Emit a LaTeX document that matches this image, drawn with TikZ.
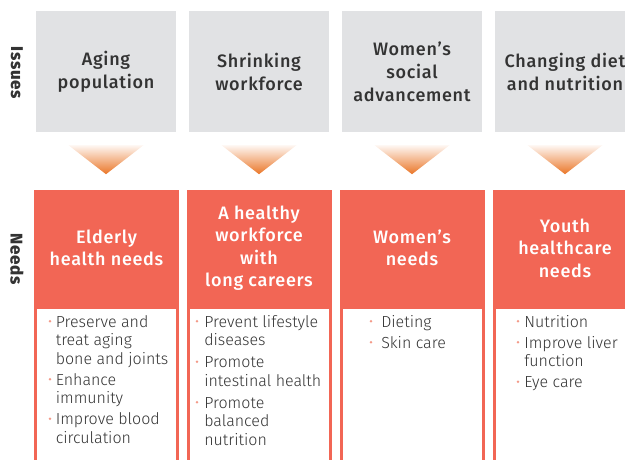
\documentclass[tikz,border=0pt]{standalone}
\usepackage{fontspec}
\setmainfont{Fira Sans}
\newfontfamily\medfont{Fira Sans Medium}[LetterSpace=4]
\newfontfamily\lightfont{Fira Sans Light}
\usetikzlibrary{calc}
\definecolor{issuegray}{HTML}{E1E2E4}
\definecolor{needred}{HTML}{F26655}
\definecolor{arroworange}{HTML}{EA7628}
\definecolor{dotpink}{HTML}{F49A88}
\definecolor{textdark}{HTML}{333333}
\newcommand{\bul}{{\color{dotpink}\raisebox{0.28em}{\tikz\fill (0,0) circle (1.3pt);}}}
\tikzset{x=1pt, y=-1pt,
 issue/.style={fill=issuegray, minimum width=140pt, minimum height=121pt,
   inner sep=0pt, align=center, text=textdark,
   font=\medfont\fontsize{18}{23}\selectfont},
 need/.style={fill=needred, minimum width=145pt, minimum height=116pt,
   inner sep=0pt, align=center, text=white,
   font=\medfont\fontsize{18}{22.5}\selectfont},
 needbody/.style={draw=needred, line width=3pt, fill=white,
   minimum width=142pt, minimum height=200pt, inner sep=0pt},
 needlist/.style={anchor=base west, inner sep=0pt, text=textdark,
   font=\lightfont\fontsize{16}{18.5}\selectfont},
 sidelabel/.style={rotate=-90, text=textdark,
   font=\medfont\bfseries\fontsize{17}{20}\selectfont},
 arrowtri/.style={top color=arroworange!6, bottom color=arroworange},
 }

\begin{document}
\begin{tikzpicture}
    \clip (0,0) rectangle (625,459);
    % issues row
    \node[sidelabel] (issues) at (17,73) {Issues};
    \node[issue] (aging) at (106,71.5) {Aging\\population};
    \node[issue] (shrinking) at (259,71.5) {Shrinking\\workforce};
    \node[issue] (women) at (412,71.5) {Women’s\\social\\advancement};
    \node[issue] (diet) at (565,71.5) {Changing diet\\and nutrition};
    % arrows
    \shade[arrowtri] ($(aging.south)+(-37.5,13)$) -- ($(aging.south)+(37.5,13)$) -- ($(aging.south)+(0,42)$) -- cycle;
    \shade[arrowtri] ($(shrinking.south)+(-37.5,13)$) -- ($(shrinking.south)+(37.5,13)$) -- ($(shrinking.south)+(0,42)$) -- cycle;
    \shade[arrowtri] ($(women.south)+(-37.5,13)$) -- ($(women.south)+(37.5,13)$) -- ($(women.south)+(0,42)$) -- cycle;
    \shade[arrowtri] ($(diet.south)+(-37.5,13)$) -- ($(diet.south)+(37.5,13)$) -- ($(diet.south)+(0,42)$) -- cycle;
    % needs row
    \node[sidelabel] (needs) at (17,259) {Needs};
    \node[needbody, anchor=north] (elderlybody) at (106.5,306) {};
    \node[needbody, anchor=north] (workbody) at (259,306) {};
    \node[needbody, anchor=north] (womenbody) at (412,306) {};
    \node[needbody, anchor=north] (youthbody) at (565,306) {};
    \node[need] (elderly) at (106.5,248) {Elderly\\health needs};
    \node[need] (work) at (259,248) {A healthy\\workforce\\with\\long careers};
    \node[need] (womenneeds) at (412,248) {Women’s\\needs};
    \node[need] (youth) at (565,248) {Youth\\healthcare\\needs};
    % lists
    \node[needlist] (elderlylist) at (48.5,327) {\begin{tabular}[t]{@{}c@{\hspace{4.5pt}}l@{}}
      \bul & Preserve and\\ & treat aging\\ & bone and joints\\[2.5pt]
      \bul & Enhance\\ & immunity\\[2.5pt]
      \bul & Improve blood\\ & circulation\end{tabular}};
    \node[needlist] (worklist) at (195.5,327) {\begin{tabular}[t]{@{}c@{\hspace{6pt}}l@{}}
      \bul & Prevent lifestyle\\ & diseases\\[3.5pt]
      \bul & Promote\\ & intestinal health\\[3.5pt]
      \bul & Promote\\ & balanced\\ & nutrition\end{tabular}};
    \node[needlist] (womenlist) at (369.5,327) {\begin{tabular}[t]{@{}c@{\hspace{9pt}}l@{}}
      \bul & Dieting\\[2.5pt]
      \bul & Skin care\end{tabular}};
    \node[needlist] (youthlist) at (516.5,327) {\begin{tabular}[t]{@{}c@{\hspace{5pt}}l@{}}
      \bul & Nutrition\\[2.5pt]
      \bul & Improve liver\\ & function\\[2.5pt]
      \bul & Eye care\end{tabular}};
\end{tikzpicture}
\end{document}
